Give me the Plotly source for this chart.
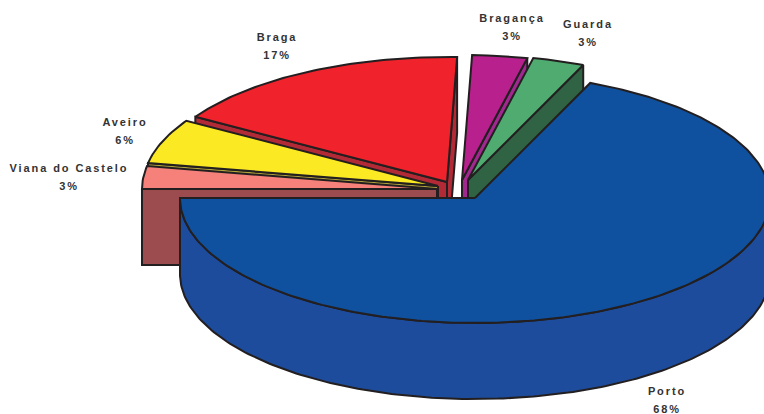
import math
import plotly.graph_objects as go

# --- data ---
names = ["Viana do Castelo", "Aveiro", "Braga", "Bragança", "Guarda", "Porto"]
values = [2.94, 5.78, 16.78, 3.0, 2.83, 68.49]
labels = ["3%", "6%", "17%", "3%", "3%", "68%"]

# --- styling / layout ---
top_colors = ["#F6807A", "#FAE923", "#F0222B", "#B8208E", "#4FAB6F", "#10519F"]
wall_colors = ["#9C4C4E", "#B2A33A", "#B22A36", "#A0288F", "#2F6344", "#1E4C9C"]
edge_color = "#231F20"
RX, RY, DEPTH = 295, 125, 76
CX, CY = 455, 190
START = 180  # slices run clockwise on screen from the left
explode = {  # pixel offset of each slice from the pie centre
    "Viana do Castelo": (-18, -1), "Aveiro": (-17, -4), "Braga": (-8, -8),
    "Bragança": (7, -10), "Guarda": (13, -10), "Porto": (20, 8),
}
label_pos = {
    "Viana do Castelo": (69, 169), "Aveiro": (125, 123), "Braga": (277, 38),
    "Bragança": (512, 19), "Guarda": (588, 25), "Porto": (667, 392),
}
draw_order = ["Braga", "Aveiro", "Viana do Castelo", "Bragança", "Guarda", "Porto"]


def pt(ax, ay, t):
    r = math.radians(t)
    return ax + RX * math.cos(r), ay - RY * math.sin(r)


def arc(ax, ay, t0, t1, dy=0):
    n = max(2, int(abs(t1 - t0)) + 1)
    out = []
    for i in range(n + 1):
        x, y = pt(ax, ay, t0 + (t1 - t0) * i / n)
        out.append((x, y + dy))
    return out


def poly(fig, pts, fill):
    xs = [p[0] for p in pts] + [pts[0][0]]
    ys = [p[1] for p in pts] + [pts[0][1]]
    fig.add_trace(go.Scatter(x=xs, y=ys, mode="lines", fill="toself", fillcolor=fill,
                             line=dict(color=edge_color, width=2, shape="linear"),
                             hoverinfo="skip", showlegend=False))


# slice angles: going counter-clockwise from START (Viana first), Porto wraps round the front
spans = {}
t = START
total = sum(values)
for n, v in zip(names, values):
    sw = v / total * 360
    spans[n] = (t - sw, t)
    t -= sw

fig = go.Figure()
for n in draw_order:
    i = names.index(n)
    t1, t2 = spans[n]
    ax, ay = CX + explode[n][0], CY + explode[n][1]
    wall, top = wall_colors[i], top_colors[i]
    # radial walls, only those facing the viewer
    if math.cos(math.radians(t1)) > 0 and abs((t1 % 360) - 180) > 90:
        x, y = pt(ax, ay, t1)
        poly(fig, [(ax, ay), (x, y), (x, y + DEPTH), (ax, ay + DEPTH)], wall)
    if math.cos(math.radians(t2)) < 0:
        x, y = pt(ax, ay, t2)
        poly(fig, [(ax, ay), (x, y), (x, y + DEPTH), (ax, ay + DEPTH)], wall)
    # outer rim, front half only
    lo, hi = t1 % 360, (t1 % 360) + (t2 - t1)
    a, b = max(lo, 180), min(hi, 360)
    if b > a:
        poly(fig, arc(ax, ay, a, b) + arc(ax, ay, b, a, DEPTH), wall)
    # top face
    poly(fig, [(ax, ay)] + arc(ax, ay, t1, t2), top)

name_x = [label_pos[n][0] for n in names]
name_y = [label_pos[n][1] for n in names]
font = dict(family="Liberation Sans, Arial, sans-serif", size=11, color="#333333", weight="bold")
fig.add_trace(go.Scatter(x=name_x, y=name_y, text=names, mode="text", textposition="middle center",
                         textfont=font, hoverinfo="skip", showlegend=False))
fig.add_trace(go.Scatter(x=name_x, y=[y + 18 for y in name_y], text=labels, mode="text",
                         textposition="middle center", textfont=font, hoverinfo="skip", showlegend=False))

fig.update_layout(width=764, height=414, margin=dict(l=0, r=0, t=0, b=0),
                  paper_bgcolor="white", plot_bgcolor="white", showlegend=False,
                  xaxis=dict(range=[0, 764], visible=False, fixedrange=True),
                  yaxis=dict(range=[414, 0], visible=False, fixedrange=True))
fig.write_html("out.html", config={"displayModeBar": False},
               post_script="document.querySelectorAll('.textpoint text').forEach(function(t){t.style.letterSpacing='1.9px';});"
                           "document.body.style.margin='0';")
